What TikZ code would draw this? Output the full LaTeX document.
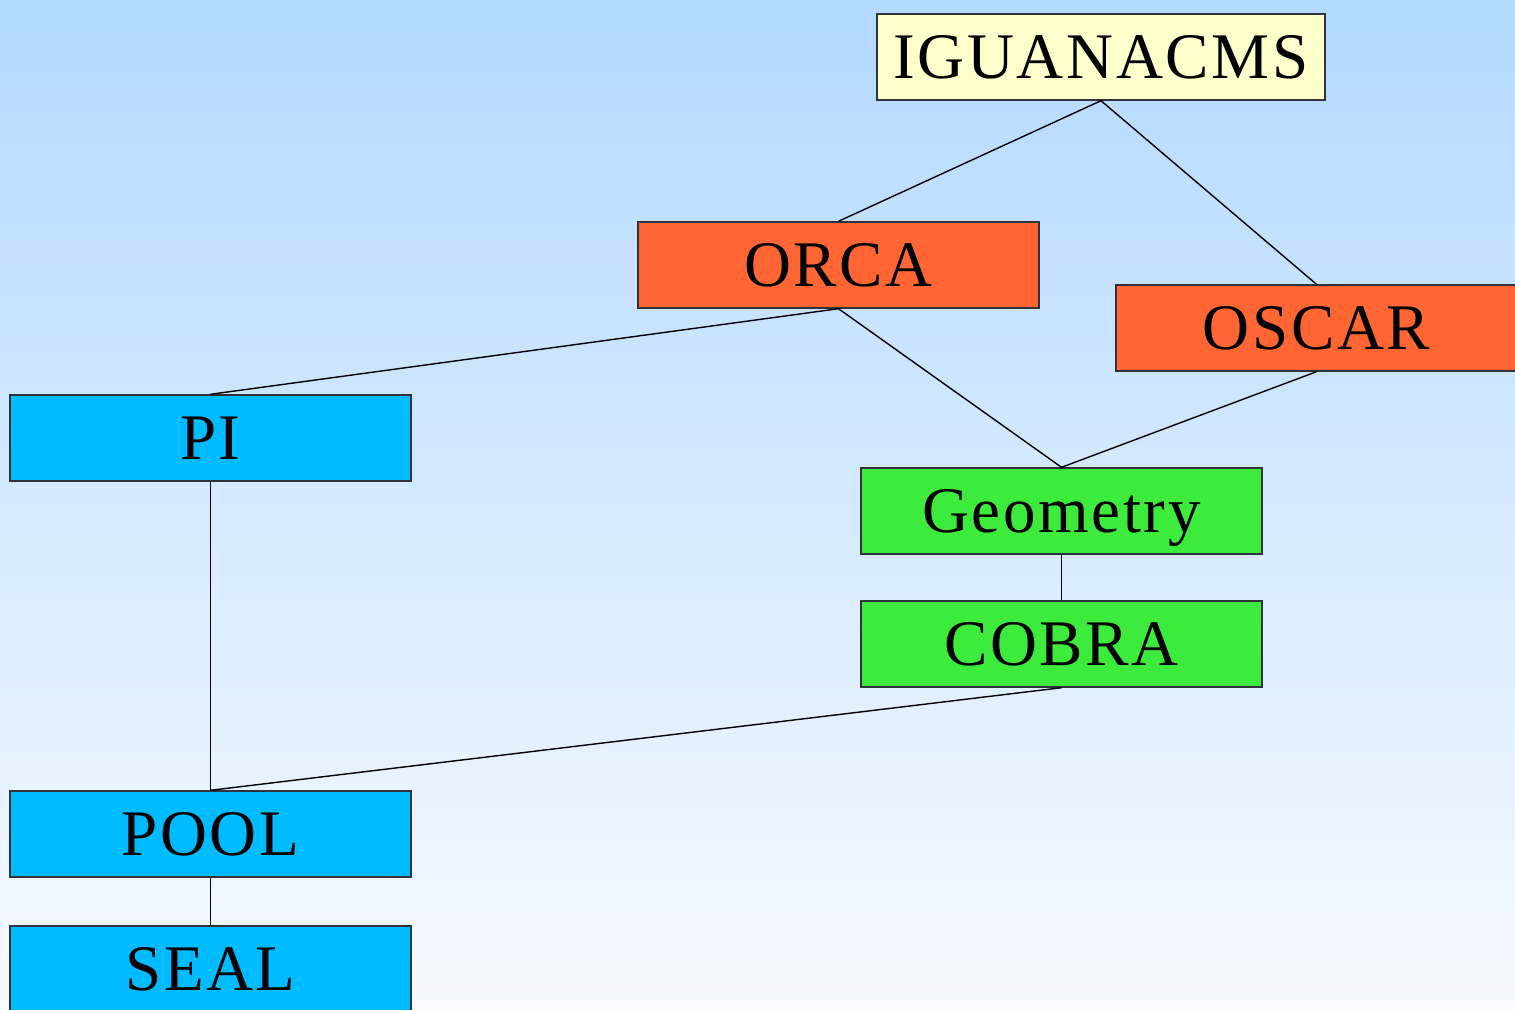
\documentclass[tikz,border=0pt]{standalone}
\usepackage{fontspec}
\setmainfont{Liberation Serif}[LetterSpace=4]
\usepackage{tikz}

\definecolor{skytop}{RGB}{179,217,255}
\definecolor{skybottom}{RGB}{246,250,255}
\definecolor{paleyellow}{RGB}{255,255,204}
\definecolor{orangered}{RGB}{255,102,51}
\definecolor{brightblue}{RGB}{0,187,255}
\definecolor{brightgreen}{RGB}{61,235,61}
\definecolor{boxline}{RGB}{50,50,60}

\begin{document}
\begin{tikzpicture}

      % Background
      \useasboundingbox (0,0) rectangle (15.15,10.09);
      \clip (0,0) rectangle (15.15,10.09);
      \shade[top color=skytop,bottom color=skybottom] (0,0) rectangle (15.15,10.09);

      % Nodes
      \begin{scope}[every node/.style={rectangle,draw=boxline,line width=0.4pt,
          minimum width=4.01cm,minimum height=0.86cm,inner sep=0pt,
          text height=0.43cm,text depth=0pt,font=\fontsize{18.5}{22}\selectfont}]
        \node[fill=paleyellow,minimum width=4.48cm] (iguana) at (11.01,9.52) {IGUANACMS};

        \node[fill=orangered] (orca) at (8.385,7.44) {ORCA};
        \node[fill=orangered] (oscar) at (13.165,6.81) {OSCAR};

        \node[fill=brightgreen] (geometry) at (10.615,4.98) {Geometry};
        \node[fill=brightgreen] (cobra) at (10.615,3.65) {COBRA};

        \node[fill=brightblue] (pi) at (2.105,5.71) {PI};
        \node[fill=brightblue] (pool) at (2.105,1.75) {POOL};
        \node[fill=brightblue] (seal) at (2.105,0.40) {SEAL};
      \end{scope}

      % Edges
      \begin{scope}[every edge/.style={draw,line width=0.4pt}]
        \path (iguana.south) edge (orca.north);
        \path (iguana.south) edge (oscar.north);

        \path (orca.south) edge (pi.north);
        \path (orca.south) edge (geometry.north);
        \path (oscar.south) edge (geometry.north);

        \path (geometry.south) edge (cobra.north);
        \path (cobra.south) edge (pool.north);

        \path (pi.south) edge (pool.north);
        \path (pool.south) edge (seal.north);
      \end{scope}

    \end{tikzpicture}
\end{document}
